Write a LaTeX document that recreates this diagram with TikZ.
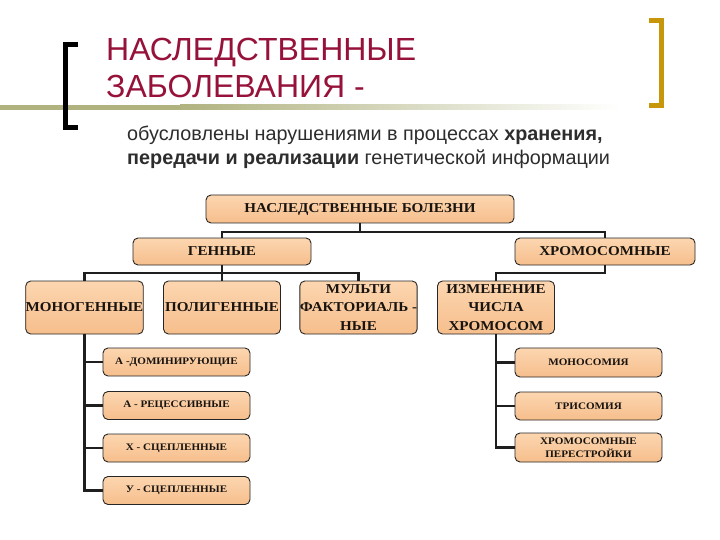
\documentclass[tikz,border=0pt]{standalone}
\usepackage{fontspec}
\setmainfont{Liberation Serif}
\newfontfamily\boxfont[FakeStretch=1.11]{Liberation Serif}
\newfontfamily\arialf{Liberation Sans}
\definecolor{titlered}{RGB}{150,18,58}
\definecolor{peachtop}{RGB}{252,214,176}
\definecolor{peachbot}{RGB}{246,190,140}
\definecolor{olive}{RGB}{176,178,128}
\definecolor{goldb}{RGB}{200,150,10}
\definecolor{subgray}{RGB}{45,45,45}
\definecolor{boxtext}{RGB}{25,20,15}
\begin{document}
\begin{tikzpicture}[x=1pt,y=-1pt,
  box/.style={draw=black!85, line width=0.9pt, rounded corners=5pt,
    top color=peachtop, bottom color=peachbot, inner sep=0pt,
    align=center, text=boxtext},
  bigbox/.style={box, font=\boxfont\bfseries\fontsize{13.6}{14}\selectfont},
  midbox/.style={box, minimum width=117pt, minimum height=53pt,
    font=\boxfont\bfseries\fontsize{13.6}{18.5}\selectfont},
  smallbox/.style={box, minimum width=147pt, minimum height=28pt,
    font=\boxfont\bfseries\fontsize{10}{13.5}\selectfont},
  conn/.style={draw=black!88, line width=2.2pt}]
\useasboundingbox (0,0) rectangle (720,540);
\fill[white] (0,0) rectangle (720,540);
% decorative line
\fill[olive] (0,105) rectangle (180,110);
\shade[left color=olive, right color=white] (180,105) rectangle (620,110);
% brackets
\draw[line width=5pt, line join=miter] (78,44.5) -- (65.5,44.5) -- (65.5,127.5) -- (78,127.5);
\draw[goldb, line width=5pt, line join=miter] (649,20.5) -- (661.5,20.5) -- (661.5,105.5) -- (649,105.5);
% title
\node[anchor=base west, inner sep=0pt, text=titlered, font=\arialf\fontsize{32}{32}\selectfont] (t1) at (106,60.5) {НАСЛЕДСТВЕННЫЕ};
\node[anchor=base west, inner sep=0pt, text=titlered, font=\arialf\fontsize{32}{32}\selectfont] (t2) at (106,97.5) {ЗАБОЛЕВАНИЯ -};
% subtitle
\node[anchor=base west, inner sep=0pt, text=subgray, font=\arialf\fontsize{19.8}{20}\selectfont] (s1) at (127,141) {обусловлены нарушениями в процессах \textbf{хранения,}};
\node[anchor=base west, inner sep=0pt, text=subgray, font=\arialf\fontsize{19.8}{20}\selectfont] (s2) at (127,165) {\textbf{передачи и реализации} генетической информации};
% boxes
\node[bigbox, minimum width=308pt, minimum height=28pt] (root) at (360,209) {НАСЛЕДСТВЕННЫЕ БОЛЕЗНИ};
\node[bigbox, minimum width=178pt, minimum height=27pt] (gen) at (222,251.5) {ГЕННЫЕ};
\node[bigbox, minimum width=180pt, minimum height=27pt] (chrom) at (605,251.5) {ХРОМОСОМНЫЕ};
\node[midbox] (mono) at (84.5,307.5) {МОНОГЕННЫЕ};
\node[midbox] (poly) at (222,307.5) {ПОЛИГЕННЫЕ};
\node[midbox] (multi) at (358.5,307.5) {МУЛЬТИ\\ФАКТОРИАЛЬ -\\НЫЕ};
\node[midbox] (izm) at (496,307.5) {ИЗМЕНЕНИЕ\\ЧИСЛА\\ХРОМОСОМ};
\node[smallbox] (adom) at (176.5,362) {А -ДОМИНИРУЮЩИЕ};
\node[smallbox] (arec) at (176.5,405.5) {А - РЕЦЕССИВНЫЕ};
\node[smallbox] (xsc) at (176.5,448) {Х - СЦЕПЛЕННЫЕ};
\node[smallbox] (ysc) at (176.5,490.5) {У - СЦЕПЛЕННЫЕ};
\node[smallbox, minimum height=29pt] (monos) at (588.5,362.5) {МОНОСОМИЯ};
\node[smallbox] (tris) at (588.5,406) {ТРИСОМИЯ};
\node[smallbox, minimum height=29pt] (perest) at (588.5,447.5) {ХРОМОСОМНЫЕ\\ПЕРЕСТРОЙКИ};
% connectors
\coordinate (j1) at (360,232);
\coordinate (j2) at (222,273);
\coordinate (j3) at (605,273);
\draw[conn] (root.south) -- (j1);
\draw[conn] (gen.north) |- (j1) -| (chrom.north);
\draw[conn] (gen.south) -- (poly.north);
\draw[conn] (mono.north) |- (j2) -| (multi.north);
\draw[conn] (chrom.south) -- (j3) -| (izm.north);
\draw[conn] (mono.south) |- (adom.west);
\draw[conn] (mono.south) |- (arec.west);
\draw[conn] (mono.south) |- (xsc.west);
\draw[conn] (mono.south) |- (ysc.west);
\draw[conn] (izm.south) |- (monos.west);
\draw[conn] (izm.south) |- (tris.west);
\draw[conn] (izm.south) |- (perest.west);
\end{tikzpicture}
\end{document}
